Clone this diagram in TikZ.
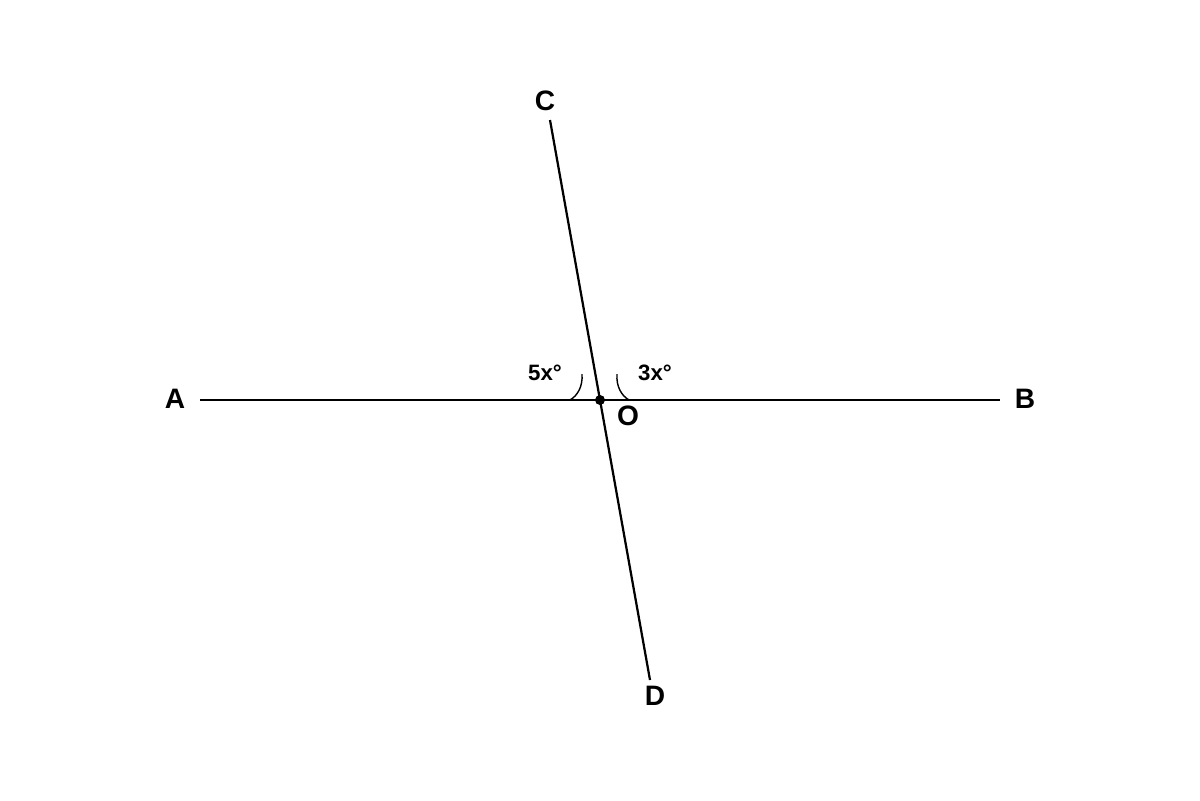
\documentclass[tikz,border=0pt]{standalone}
\usepackage{fontspec}
\setmainfont{Liberation Sans}
\begin{document}
\begin{tikzpicture}[x=0.03cm,y=-0.03cm,
  seg/.style={line width=1.9pt},
  arcline/.style={line width=1.2pt},
  ptlabel/.style={font=\fontsize{24}{27}\selectfont\bfseries, inner sep=0pt},
  anglabel/.style={font=\fontsize{19}{22}\selectfont\bfseries, inner sep=0pt}]
\useasboundingbox[fill=white] (0,0) rectangle (1200,800);
\coordinate (A) at (200,400);
\coordinate (B) at (1000,400);
\coordinate (C) at (550,120);
\coordinate (D) at (650,680);
\coordinate (O) at (600,400);
\draw[seg] (A) -- (B);
\draw[seg] (C) -- (D);
\fill (O) circle (5);
\coordinate (l1) at (582,374);
\coordinate (l2) at (570,400);
\coordinate (r1) at (617,374);
\coordinate (r2) at (629,400);
\draw[arcline] (l1) .. controls (583,387) and (577,396) .. (l2);
\draw[arcline] (r1) .. controls (616,387) and (622,396) .. (r2);
\node[ptlabel] (lA) at (175,399) {A};
\node[ptlabel] (lB) at (1025,399) {B};
\node[ptlabel] (lC) at (545,101) {C};
\node[ptlabel] (lD) at (655,696) {D};
\node[ptlabel] (lO) at (628,416) {O};
\node[anglabel] (a5) at (545,373) {5x°};
\node[anglabel] (a3) at (655,373) {3x°};
\end{tikzpicture}
\end{document}
